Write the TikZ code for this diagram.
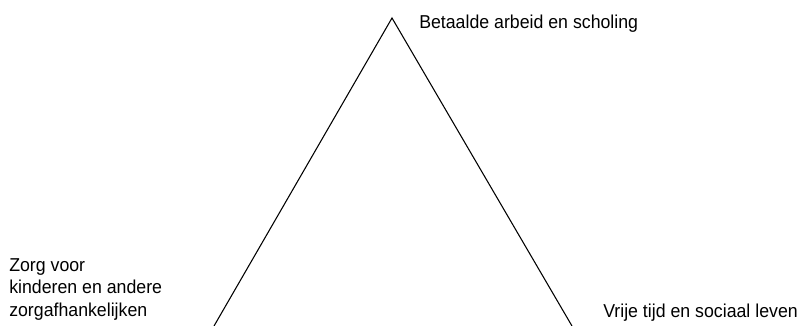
\documentclass[tikz,border=0pt]{standalone}
\usepackage{fontspec}
\setmainfont{Liberation Sans}[FakeStretch=0.95]
\usetikzlibrary{positioning}

\begin{document}
\begin{tikzpicture}[x=0.75pt, y=-0.75pt, label/.style={inner sep=0pt, font=\fontsize{14}{16}\selectfont}]
		\useasboundingbox (0,0) rectangle (803,325);
		\coordinate (top) at (392,18);
		\coordinate (left_foot) at (214,326);
		\coordinate (right_foot) at (572,326);
		\draw[line width=0.8pt] (left_foot) -- (top) -- (right_foot);
		\node[label, anchor=base west] (work) at (419,28) {Betaalde arbeid en scholing};
		\node[label, anchor=north west, align=left] (care) at (9,258) {Zorg voor\\[1pt]kinderen en andere\\[1pt]zorgafhankelijken};
		\node[label, anchor=base west] (leisure) at (603,317) {Vrije tijd en sociaal leven};
	\end{tikzpicture}
\end{document}
